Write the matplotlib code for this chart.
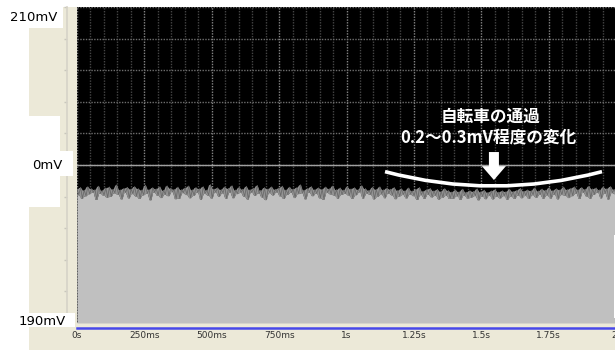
import numpy as np
import matplotlib
matplotlib.use("Agg")
import matplotlib.pyplot as plt
from matplotlib.patches import Rectangle, PathPatch
from matplotlib.path import Path

# Sensor output over a 2 s capture (mV)
trace_mv = [
    198.46, 198.12, 198.58, 197.90, 198.41, 198.05, 198.63, 198.18, 198.50, 198.28,
    198.44, 197.82, 198.66, 198.22, 198.39, 198.10, 198.55, 197.95, 198.61, 198.02,
    198.47, 198.24, 198.74, 198.15, 198.43, 197.86, 198.52, 198.26, 198.59, 197.92,
    198.48, 198.19, 198.64, 198.04, 198.51, 197.89, 198.42, 198.11, 198.72, 198.21,
    198.45, 197.80, 198.57, 198.29, 198.49, 198.09, 198.62, 197.94, 198.40, 198.14,
    198.68, 198.06, 198.53, 198.31, 198.46, 197.87, 198.60, 197.90, 198.44, 198.25,
    198.55, 198.13, 198.67, 197.93, 198.43, 198.07, 198.58, 198.28, 198.50, 197.83,
    198.63, 198.20, 198.41, 198.10, 198.76, 197.91, 198.48, 198.30, 198.56, 198.03,
    198.45, 198.24, 198.61, 197.88, 198.52, 198.27, 198.69, 197.93, 198.42, 198.19,
    198.59, 198.26, 198.47, 198.01, 198.65, 197.85, 198.44, 198.29, 198.53, 198.09,
    198.71, 198.23, 198.40, 197.96, 198.57, 197.81, 198.49, 198.25, 198.62, 198.11,
    198.46, 198.30, 198.54, 198.05, 198.66, 197.89, 198.43, 198.15, 198.60, 198.27,
    198.48, 197.94, 198.58, 198.19, 198.75, 198.24, 198.41, 197.86, 198.52, 198.28,
    198.64, 198.06, 198.45, 198.22, 198.56, 197.92, 198.47, 197.84, 198.61, 198.26,
    198.50, 198.17, 198.68, 198.09, 198.44, 197.90, 198.55, 198.14, 198.42, 198.21,
    198.63, 198.07, 198.49, 197.88, 198.57, 198.12, 198.45, 198.30, 198.70, 197.91,
    198.51, 198.20, 198.40, 198.15, 198.59, 197.86, 198.46, 198.01, 198.62, 198.18,
    198.43, 197.93, 198.54, 198.22, 198.47, 198.11, 198.58, 197.87, 198.40, 198.04,
    198.50, 198.13, 198.38, 197.92, 198.55, 198.17, 198.36, 198.06, 198.47, 197.82,
    198.58, 198.12, 198.34, 197.89, 198.44, 198.15, 198.52, 197.98, 198.37, 198.08,
    198.46, 197.85, 198.33, 197.96, 198.51, 198.07, 198.39, 197.88, 198.30, 197.90,
    198.42, 198.05, 198.31, 197.83, 198.47, 198.09, 198.28, 197.91, 198.38, 197.95,
    198.33, 198.06, 198.49, 197.80, 198.30, 198.03, 198.41, 197.87, 198.27, 198.08,
    198.36, 197.86, 198.45, 198.02, 198.29, 197.92, 198.37, 198.06, 198.32, 197.84,
    198.46, 198.04, 198.33, 197.89, 198.40, 198.10, 198.52, 197.93, 198.35, 198.07,
    198.43, 197.88, 198.38, 198.12, 198.55, 197.95, 198.36, 198.14, 198.48, 197.90,
    198.41, 198.11, 198.57, 197.91, 198.39, 198.16, 198.50, 197.86, 198.44, 198.13,
    198.60, 198.10, 198.45, 197.94, 198.53, 198.06, 198.62, 198.22, 198.44, 197.88,
    198.58, 198.26, 198.47, 198.04, 198.66, 197.90, 198.49, 198.15, 198.55, 198.28,
    198.43, 197.92, 198.61, 198.23, 198.51, 197.85, 198.64, 198.25, 198.46, 198.18,
]
capture_length_s = 2.0

x_ticks_s = [0, 0.25, 0.5, 0.75, 1.0, 1.25, 1.5, 1.75, 2.0]
x_tick_labels = ["0s", "250ms", "500ms", "750ms", "1s", "1.25s", "1.5s", "1.75s", "2s"]
x_minor_step_s = 0.05

y_range_mv = (190, 210)
y_div_mv = 2
y_center_mv = 200
y_labels = ["210mV", "0mV", "190mV"]

note_lines = ["自転車の通過", "0.2〜0.3mV程度の変化"]
note_anchor = [(1.536, 203.04), (1.525, 201.72)]
arc_points = [(1.143, 199.58), (1.545, 197.76), (1.948, 199.58)]
arrow_tail = (1.547, 200.82)
arrow_tip = (1.547, 199.05)

W, H = 615, 350
BEIGE = "#ECE9D8"
fig = plt.figure(figsize=(W / 100, H / 100), dpi=100, facecolor="white")


def px_box(x0, y0, x1, y1, color, z):
    fig.add_artist(Rectangle((x0 / W, 1 - y1 / H), (x1 - x0) / W, (y1 - y0) / H,
                             transform=fig.transFigure, facecolor=color,
                             edgecolor="none", zorder=z))


# window frame and label plates
px_box(29, 7, 615, 350, BEIGE, -1)
px_box(0, 0, 63, 28, "white", 1)
px_box(0, 116, 60, 207, "white", 1)
px_box(0, 151, 73, 176, "white", 1)
px_box(0, 313, 75, 327, "white", 1)
px_box(613.5, 235, 615, 318, "white", 1)

ax = fig.add_axes([77 / W, 1 - 323 / H, (616 - 77) / W, 316 / H])
ax.set_facecolor("black")
ax.set_xlim(0, capture_length_s)
ax.set_ylim(*y_range_mv)

# waveform: min/max band of neighbouring samples, light fill below, trace on top
t = np.arange(len(trace_mv)) * capture_length_s / (len(trace_mv) - 1)
v = np.asarray(trace_mv)
hi = np.maximum(v, np.r_[v[1:], v[-1]])
lo = np.minimum(v, np.r_[v[1:], v[-1]])
ax.fill_between(t, lo, hi, color="#939393", lw=0, zorder=2)
ax.fill_between(t, lo, y_range_mv[0], color="#c0c0c0", lw=0, zorder=2)
ax.plot(t, v, color="#6a6a6a", lw=0.6, zorder=3)

# grid
ax.set_xticks(x_ticks_s)
ax.set_xticklabels(x_tick_labels)
ax.set_xticks(np.arange(0, capture_length_s + 1e-9, x_minor_step_s), minor=True)
ax.set_yticks(np.arange(y_range_mv[0], y_range_mv[1] + 1e-9, y_div_mv))
ax.set_axisbelow(True)
ax.grid(which="minor", axis="x", color="#454545", lw=1, ls=(0, (1, 1)))
ax.grid(which="major", axis="x", color="#858585", lw=1, ls=(0, (1, 1)))
ax.grid(which="major", axis="y", color="#6e6e6e", lw=1, ls=(0, (1, 1)))
ax.axhline(y_center_mv, color="#a0a0a0", lw=1, zorder=1)

ax.tick_params(axis="x", which="both", length=0, pad=2.2, labelsize=6.5,
               labelcolor="#333333")
for lab in ax.get_xticklabels():
    lab.set_fontweight("bold")
ax.tick_params(axis="y", which="both", direction="out", length=2.5, width=1,
               color="#c8c6bc", labelleft=False)

for side in ("top", "right"):
    ax.spines[side].set_visible(False)
ax.spines["left"].set_position(("outward", 7.2))
ax.spines["left"].set_color("#d6d3c8")
ax.spines["left"].set_linewidth(1.2)
ax.spines["bottom"].set_position(("outward", 3.6))
ax.spines["bottom"].set_color("#4848e8")
ax.spines["bottom"].set_linewidth(1.8)

# vertical scale labels (right edge, baseline) in pixels
label_px = [(57, 20.8), (63, 168.8), (66, 324.8)]
for txt, (xr, yb) in zip(y_labels, label_px):
    fig.text(xr / W, 1 - yb / H, txt, ha="right", va="baseline", fontsize=9.5,
             color="black", family="DejaVu Sans", zorder=5)

# passing-bicycle note
arc = Path(arc_points, [Path.MOVETO, Path.CURVE3, Path.CURVE3])
ax.add_patch(PathPatch(arc, facecolor="none", edgecolor="white", lw=2.6,
                       capstyle="butt", zorder=6))
ax.annotate("", xy=arrow_tip, xytext=arrow_tail,
            arrowprops=dict(arrowstyle="simple,head_length=1.0,head_width=1.73,tail_width=0.72",
                            color="white", lw=0, shrinkA=0, shrinkB=0,
                            mutation_scale=10), zorder=6)
for txt, (x, y) in zip(note_lines, note_anchor):
    ax.text(x, y, txt, ha="center", va="center", color="white", fontsize=12,
            fontweight="bold", family=["Noto Sans CJK JP", "DejaVu Sans"], zorder=7)

fig.savefig("out.png", dpi=100, facecolor="white")
